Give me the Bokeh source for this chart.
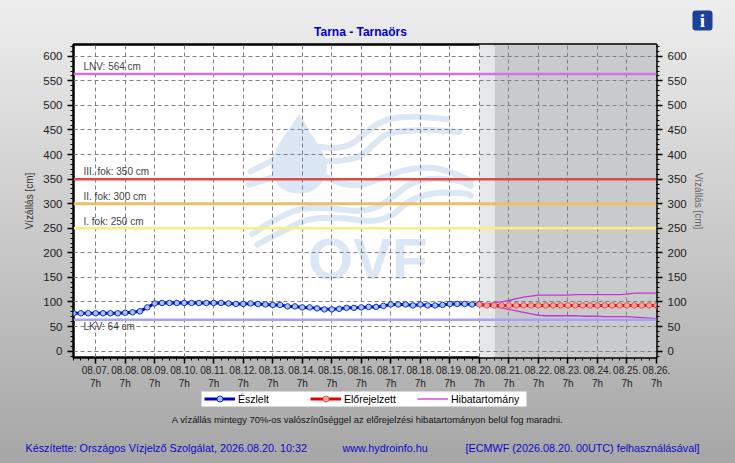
from bokeh.plotting import figure
from bokeh.layouts import column
from bokeh.models import (Range1d, FixedTicker, LinearAxis, Legend, LegendItem, Span)
from bokeh.embed import file_html
from bokeh.resources import INLINE
from bokeh.core.properties import value

title_text = "Tarna - Tarnaörs"
day_labels = ["08.%02d.\n7h" % d for d in range(7, 27)]
obs_values = [77, 77, 77, 77, 77, 77, 77, 78, 79, 81, 89, 97,
              98, 98, 98, 98, 98, 98, 98, 98, 98, 97, 96, 96, 97, 96, 95,
              94, 94, 91, 91, 89, 89, 87, 85, 85, 86, 88, 88, 89, 90, 90,
              92, 95, 95, 95, 93, 95, 93, 93, 94, 96, 96, 96, 95, 96]
fc_values = [95, 93, 93, 93, 93, 93, 93, 93, 93, 93, 93, 93, 93,
             93, 93, 93, 93, 93, 93, 93, 93, 93, 93, 93, 93]
fc_upper = [95, 96, 98, 100, 103, 107, 110, 112, 114, 114, 114, 114, 114,
            115, 115, 115, 115, 115, 115, 115, 116, 118, 118, 118, 118]
fc_lower = [95, 93, 91, 88, 85, 82, 79, 76, 73, 72, 72, 72, 72,
            72, 71, 71, 71, 70, 70, 70, 70, 69, 68, 67, 66]
levels = [("LNV: 564 cm", 564, "#d96fe0", 2.5),
          ("III. fok: 350 cm", 350, "#de4a4a", 2.5),
          ("II. fok: 300 cm", 300, "#eabf6a", 3),
          ("I. fok: 250 cm", 250, "#f6f07c", 2.5),
          ("LKV: 64 cm", 64, "#a8a4f4", 2.5)]

W, H = 735, 463
FL, FR, FT, FB = 73, 656, 44, 357
XL, XR, YB, YT = -18, 456, -13, 624

p = figure(width=W, height=H, output_backend="svg", toolbar_location=None,
           x_range=Range1d(XL, XR), y_range=Range1d(YB, YT),
           min_border_left=FL, min_border_right=W - FR, min_border_top=FT,
           min_border_bottom=H - FB, x_axis_location="below", y_axis_location="left")
p.frame_align = False
p.styles = {"background": "linear-gradient(#eeeeee, #a6a6a6)"}
p.border_fill_alpha = 0
p.background_fill_color = "white"
p.outline_line_color = "black"
p.outline_line_width = 2.5

p.quad(left=[312], right=[324.5], bottom=[YB], top=[YT], fill_color="#e6e7e9", line_color=None, level="image")
p.quad(left=[324.5], right=[XR], bottom=[YB], top=[YT], fill_color="#c9cacc", line_color=None, level="image")

def wm(pts):
    def cr(p0, p1, p2, p3, t):
        return 0.5 * (2 * p1 + (p2 - p0) * t + (2 * p0 - 5 * p1 + 4 * p2 - p3) * t * t + (3 * p1 - p0 - 3 * p2 + p3) * t ** 3)
    xs = [(230 + a / 3 - 95) / 1.2296 for a, b in pts]
    ys = [(350.7 - 100 - b / 3) / 0.4923 for a, b in pts]
    ox, oy = [], []
    for i in range(len(xs) - 1):
        i0, i3 = max(i - 1, 0), min(i + 2, len(xs) - 1)
        for k in range(8):
            t = k / 8
            ox.append(cr(xs[i0], xs[i], xs[i + 1], xs[i3], t))
            oy.append(cr(ys[i0], ys[i], ys[i + 1], ys[i3], t))
    ox.append(xs[-1]); oy.append(ys[-1])
    return ox, oy

WM = "#dbe7f4"
drop = [(205, 40), (185, 70), (160, 105), (140, 140), (125, 175), (123, 210), (140, 250), (170, 272), (205, 278),
        (240, 272), (270, 250), (287, 215), (285, 175), (270, 145), (245, 105), (225, 70), (205, 40)]
dx, dy = wm(drop)
p.patch(dx, dy, fill_color=WM, line_color=None, level="image")
waves = [[(265, 137), (310, 142), (360, 130), (400, 100), (440, 70), (490, 52), (560, 48), (650, 55)],
         [(285, 182), (340, 178), (390, 165), (430, 130), (470, 100), (530, 90), (600, 88), (685, 93)],
         [(60, 212), (100, 192), (125, 178)],
         [(55, 252), (100, 238), (130, 228)],
         [(285, 228), (340, 250), (400, 250), (470, 225), (540, 205), (610, 202), (660, 215), (720, 240)],
         [(65, 400), (120, 365), (200, 328), (280, 322), (380, 330), (440, 318), (490, 285), (540, 250), (600, 235), (680, 240), (720, 255)],
         [(80, 432), (150, 395), (230, 358), (320, 352), (420, 360), (480, 345), (540, 300), (610, 278), (700, 278), (720, 285)]]
for w in waves:
    wx, wy = wm(w)
    p.line(wx, wy, line_color=WM, line_width=6, line_cap="round", level="image")
p.text([(367 - 95) / 1.2296], [(350.7 - 258) / 0.4923], text=["OVF"], text_font=value("Liberation Sans"),
       text_font_style="bold", text_font_size="58px", text_color=WM, text_align="center",
       text_baseline="middle", level="image")

for g in (p.xgrid, p.ygrid):
    g.grid_line_color = "#808080"
    g.grid_line_dash = "4 3"
    g.grid_line_width = 1

for name, v, col, lw in levels:
    p.add_layout(Span(location=v, dimension="width", line_color=col, line_width=lw, level="glyph"))

yt = FixedTicker(ticks=list(range(0, 601, 50)), minor_ticks=list(range(-10, 621, 10)))
xt = FixedTicker(ticks=[24 * i for i in range(20)], minor_ticks=[6 * i for i in range(-3, 77)])
p.xaxis.ticker = xt
p.xgrid.ticker = xt
p.ygrid.ticker = yt
p.xaxis.major_label_overrides = {24 * i: day_labels[i] for i in range(20)}
p.yaxis.ticker = yt
ra = LinearAxis(ticker=yt)
p.add_layout(ra, "right")
for ax in (p.yaxis[0], ra):
    ax.axis_label = "Vízállás [cm]"
    ax.axis_label_text_font = "Liberation Sans"
    ax.axis_label_text_font_style = "normal"
    ax.axis_label_text_font_size = "10px"
    ax.axis_label_text_color = "#333333"
    ax.major_label_text_font_size = "11.5px"
p.yaxis[0].axis_label_standoff = 5
ra.axis_label_standoff = 3
ra.axis_label_text_color = "#666666"
for ax in (p.xaxis[0], p.yaxis[0], ra):
    ax.axis_line_color = None
    ax.major_tick_line_color = "black"
    ax.minor_tick_line_color = "black"
    ax.major_tick_line_width = 1.5
    ax.major_tick_out = 6
    ax.major_tick_in = 0
    ax.minor_tick_out = 3
    ax.minor_tick_in = 0
    ax.major_label_text_font = "Liberation Sans"
    ax.major_label_text_color = "#222222"
p.xaxis[0].major_label_text_font_size = "10px"
p.xaxis[0].major_label_standoff = 1

BLUE = dict(line_color="#0000c8", line_width=3)
BLUEM = dict(marker="circle", size=5.5, fill_color="#a6c8f0", line_color="#1030c8", line_width=1)
RED = dict(line_color="#e80000", line_width=3)
REDM = dict(marker="circle", size=5.5, fill_color="#ffa8a0", line_color="#e85050", line_width=1)
MAG = dict(line_color="#c832d8", line_width=1.3)

obs_x = [-18 + 6 * i for i in range(len(obs_values))]
fc_x = [312 + 6 * i for i in range(len(fc_values))]
p.line(obs_x, obs_values, **BLUE)
p.scatter(obs_x, obs_values, **BLUEM)
p.line(fc_x, fc_upper, **MAG)
p.line(fc_x, fc_lower, **MAG)
p.line(fc_x, fc_values, **RED)
p.scatter(fc_x, fc_values, **REDM)

# overlay figure: one full-page frame for the texts that sit outside the plot frame
q = figure(width=W, height=H, output_backend="svg", toolbar_location=None,
           x_range=Range1d(0, W), y_range=Range1d(H, 0), x_axis_location=None, y_axis_location=None,
           min_border=0)
q.frame_align = False
q.styles = {"position": "absolute", "left": "0px", "top": "0px", "z-index": "5", "pointer-events": "none"}
q.grid.visible = False
q.outline_line_color = None
q.background_fill_alpha = 0
q.border_fill_alpha = 0

def lab(text, rx, ry, size="10px", color="#333333", align="left", style="normal", font="Liberation Sans"):
    q.text([rx], [ry], text=[text], text_font=value(font), text_font_size=size, text_color=color,
           text_align=align, text_baseline="middle", text_font_style=style)

lab(title_text, 360, 31, size="12px", color="#0000c8", align="center", style="bold")
for (name, v, col, lw), (ry, rx) in zip(levels, [(66, 83), (171, 83), (196, 83), (221, 83), (326, 83)]):
    lab(name, rx, ry, color="#444444")

q.quad(left=[201], right=[526], top=[391], bottom=[406], fill_color="white", line_color=None)
off = [-50]
leg1 = [q.line(off, off, **BLUE), q.scatter(off, off, **BLUEM)]
leg2 = [q.line(off, off, **RED), q.scatter(off, off, **REDM)]
leg3 = [q.line(off, off, **MAG)]
for name, rends, lx in [("Észlelt", leg1, 204), ("Előrejelzett", leg2, 310), ("Hibatartomány", leg3, 417)]:
    q.add_layout(Legend(items=[LegendItem(label=name, renderers=rends)], location=(lx, H - 406),
                        orientation="horizontal", background_fill_alpha=0, border_line_color=None,
                        padding=0, margin=0, glyph_width=31, glyph_height=15, label_standoff=3,
                        label_text_font="Liberation Sans", label_text_font_size="10.5px", label_text_color="black",
                        label_height=15), "center")

lab("A vízállás mintegy 70%-os valószínűséggel az előrejelzési hibatartományon belül fog maradni.", 367, 419,
    size="9.4px", color="#111111", align="center")
lab("Készítette: Országos Vízjelző Szolgálat, 2026.08.20. 10:32", 25, 447, size="10.8px", color="#0a0ac8")
lab("www.hydroinfo.hu", 342, 447, size="10.8px", color="#0a0ac8")
lab("[ECMWF (2026.08.20. 00UTC) felhasználásával]", 465, 447, size="10.8px", color="#0a0ac8")

q.quad(left=[692], right=[712], top=[10], bottom=[30], fill_color="#1b419a", line_color=None, border_radius=3)
lab("i", 702, 20, size="19px", color="white", align="center", style="bold", font="Liberation Serif")

page = column(p, q, sizing_mode="fixed", width=W, height=H)
open("out.html", "w").write(file_html(page, INLINE))
